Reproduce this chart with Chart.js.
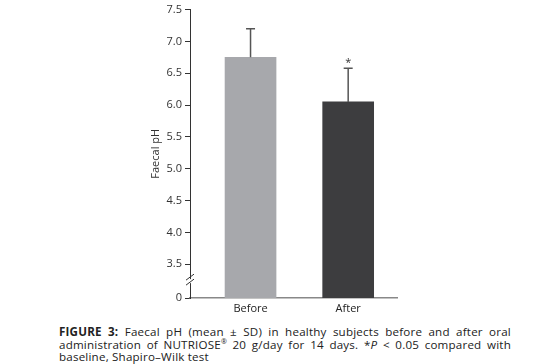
<!DOCTYPE html>
<html>
<head>
<meta charset="utf-8">
<script src="https://cdn.jsdelivr.net/npm/chart.js@4/dist/chart.umd.min.js"></script>
<style>
  html, body { margin: 0; padding: 0; background: #fff; }
  #wrap { position: relative; width: 559px; height: 364px; overflow: hidden; }
  #c { position: absolute; left: 0; top: 0; }
  #cap { position: absolute; left: 59px; top: 326px; width: 452px; font-family: "Open Sans", sans-serif;
         font-size: 11.6px; letter-spacing: 0.2px; line-height: 12.5px; color: #222; }
  #cap .ln { display: block; white-space: nowrap; }
  #cap .ln > span { display: inline; }
  #cap sup { font-size: 7px; line-height: 0; }
</style>
</head>
<body>
<div id="wrap">
<canvas id="c" width="559" height="318"></canvas>
<div id="cap"><div class="ln j"><span><b>FIGURE 3:</b> Faecal pH (mean ± SD) in healthy subjects before and after oral</span></div><div class="ln j"><span>administration of NUTRIOSE<sup>®</sup> 20 g/day for 14 days. *<i>P</i> &lt; 0.05 compared with</span></div><div class="ln"><span>baseline, Shapiro–Wilk test</span></div></div>
</div>
<script>
// justify caption lines to the caption width
(function () {
  const W = 452;
  document.querySelectorAll('#cap .ln.j > span').forEach(sp => {
    const w = sp.getBoundingClientRect().width;
    const spaces = (sp.textContent.match(/ /g) || []).length;
    if (spaces > 0 && w < W) sp.style.wordSpacing = ((W - w) / spaces) + 'px';
  });
})();

const categories = ['Before', 'After'];
const meanValues = [6.75, 6.05];
const sdValues = [0.45, 0.53];
const significance = ['', '*'];
const barColors = ['#a7a8ac', '#3d3d3f'];
const yTickValues = [2.97, 3.5, 4.0, 4.5, 5.0, 5.5, 6.0, 6.5, 7.0, 7.5];
const yTickLabels = ['0', '3.5', '4.0', '4.5', '5.0', '5.5', '6.0', '6.5', '7.0', '7.5'];
const categoryPositions = [1, 2];

Chart.defaults.font.family = '"Open Sans", sans-serif';
Chart.defaults.font.size = 11;
Chart.defaults.color = '#333';

const extras = {
  id: 'extras',
  afterDatasetsDraw(chart) {
    const ctx = chart.ctx;
    const xs = chart.scales.x, ys = chart.scales.y;
    ctx.save();
    ctx.strokeStyle = '#555';
    ctx.lineWidth = 1.5;
    meanValues.forEach((m, i) => {
      const x = xs.getPixelForValue(categoryPositions[i]);
      const y0 = ys.getPixelForValue(m);
      const y1 = ys.getPixelForValue(m + sdValues[i]);
      ctx.beginPath();
      ctx.moveTo(x, y0); ctx.lineTo(x, y1);
      ctx.moveTo(x - 4.5, y1); ctx.lineTo(x + 4.5, y1);
      ctx.stroke();
      if (significance[i]) {
        ctx.fillStyle = '#333';
        ctx.font = '11px "Open Sans", sans-serif';
        ctx.textAlign = 'center';
        ctx.textBaseline = 'middle';
        ctx.fillText(significance[i], x, y1 - 5);
      }
    });
    const ax = chart.chartArea.left;
    const yb = (ys.getPixelForValue(yTickValues[0]) + ys.getPixelForValue(yTickValues[1])) / 2;
    ctx.fillStyle = '#fff';
    ctx.fillRect(ax - 2, yb - 2, 4, 4);
    ctx.strokeStyle = '#333';
    ctx.lineWidth = 1;
    ctx.beginPath();
    ctx.moveTo(ax - 4, yb - 1); ctx.lineTo(ax + 4, yb - 7);
    ctx.moveTo(ax - 4, yb + 4); ctx.lineTo(ax + 4, yb - 2);
    ctx.stroke();
    ctx.restore();
  }
};

new Chart(document.getElementById('c'), {
  type: 'bar',
  data: {
    datasets: [{
      data: categoryPositions.map((p, i) => ({ x: p, y: meanValues[i] })),
      backgroundColor: barColors,
      borderWidth: 0,
      barThickness: 51
    }]
  },
  options: {
    responsive: false,
    animation: false,
    devicePixelRatio: 1,
    layout: { padding: { left: 145, right: 162, top: 7, bottom: 0 } },
    plugins: { legend: { display: false }, tooltip: { enabled: false } },
    scales: {
      x: {
        type: 'linear',
        offset: false,
        min: 0.38,
        max: 2.5,
        afterBuildTicks: s => { s.ticks = categoryPositions.map(v => ({ value: v })); },
        afterFit: s => { s.height = 20; },
        ticks: {
          color: '#222',
          padding: 4,
          autoSkip: false,
          maxRotation: 0,
          callback: v => categories[categoryPositions.indexOf(v)] || ''
        },
        grid: { display: false, drawTicks: false },
        border: { display: true, color: '#888', width: 1.5 }
      },
      y: {
        min: yTickValues[0],
        max: yTickValues[yTickValues.length - 1],
        afterBuildTicks: s => { s.ticks = yTickValues.map(v => ({ value: v })); },
        afterFit: s => { s.width = 45; },
        ticks: {
          color: '#333',
          padding: 3,
          autoSkip: false,
          callback: (v, i) => yTickLabels[i]
        },
        grid: { drawOnChartArea: false, tickLength: 5, color: '#333', tickWidth: 1 },
        border: { display: true, color: '#333', width: 1 },
        title: { display: true, text: 'Faecal pH', color: '#333', font: { size: 11 } }
      }
    }
  },
  plugins: [extras]
});
</script>
</body>
</html>
